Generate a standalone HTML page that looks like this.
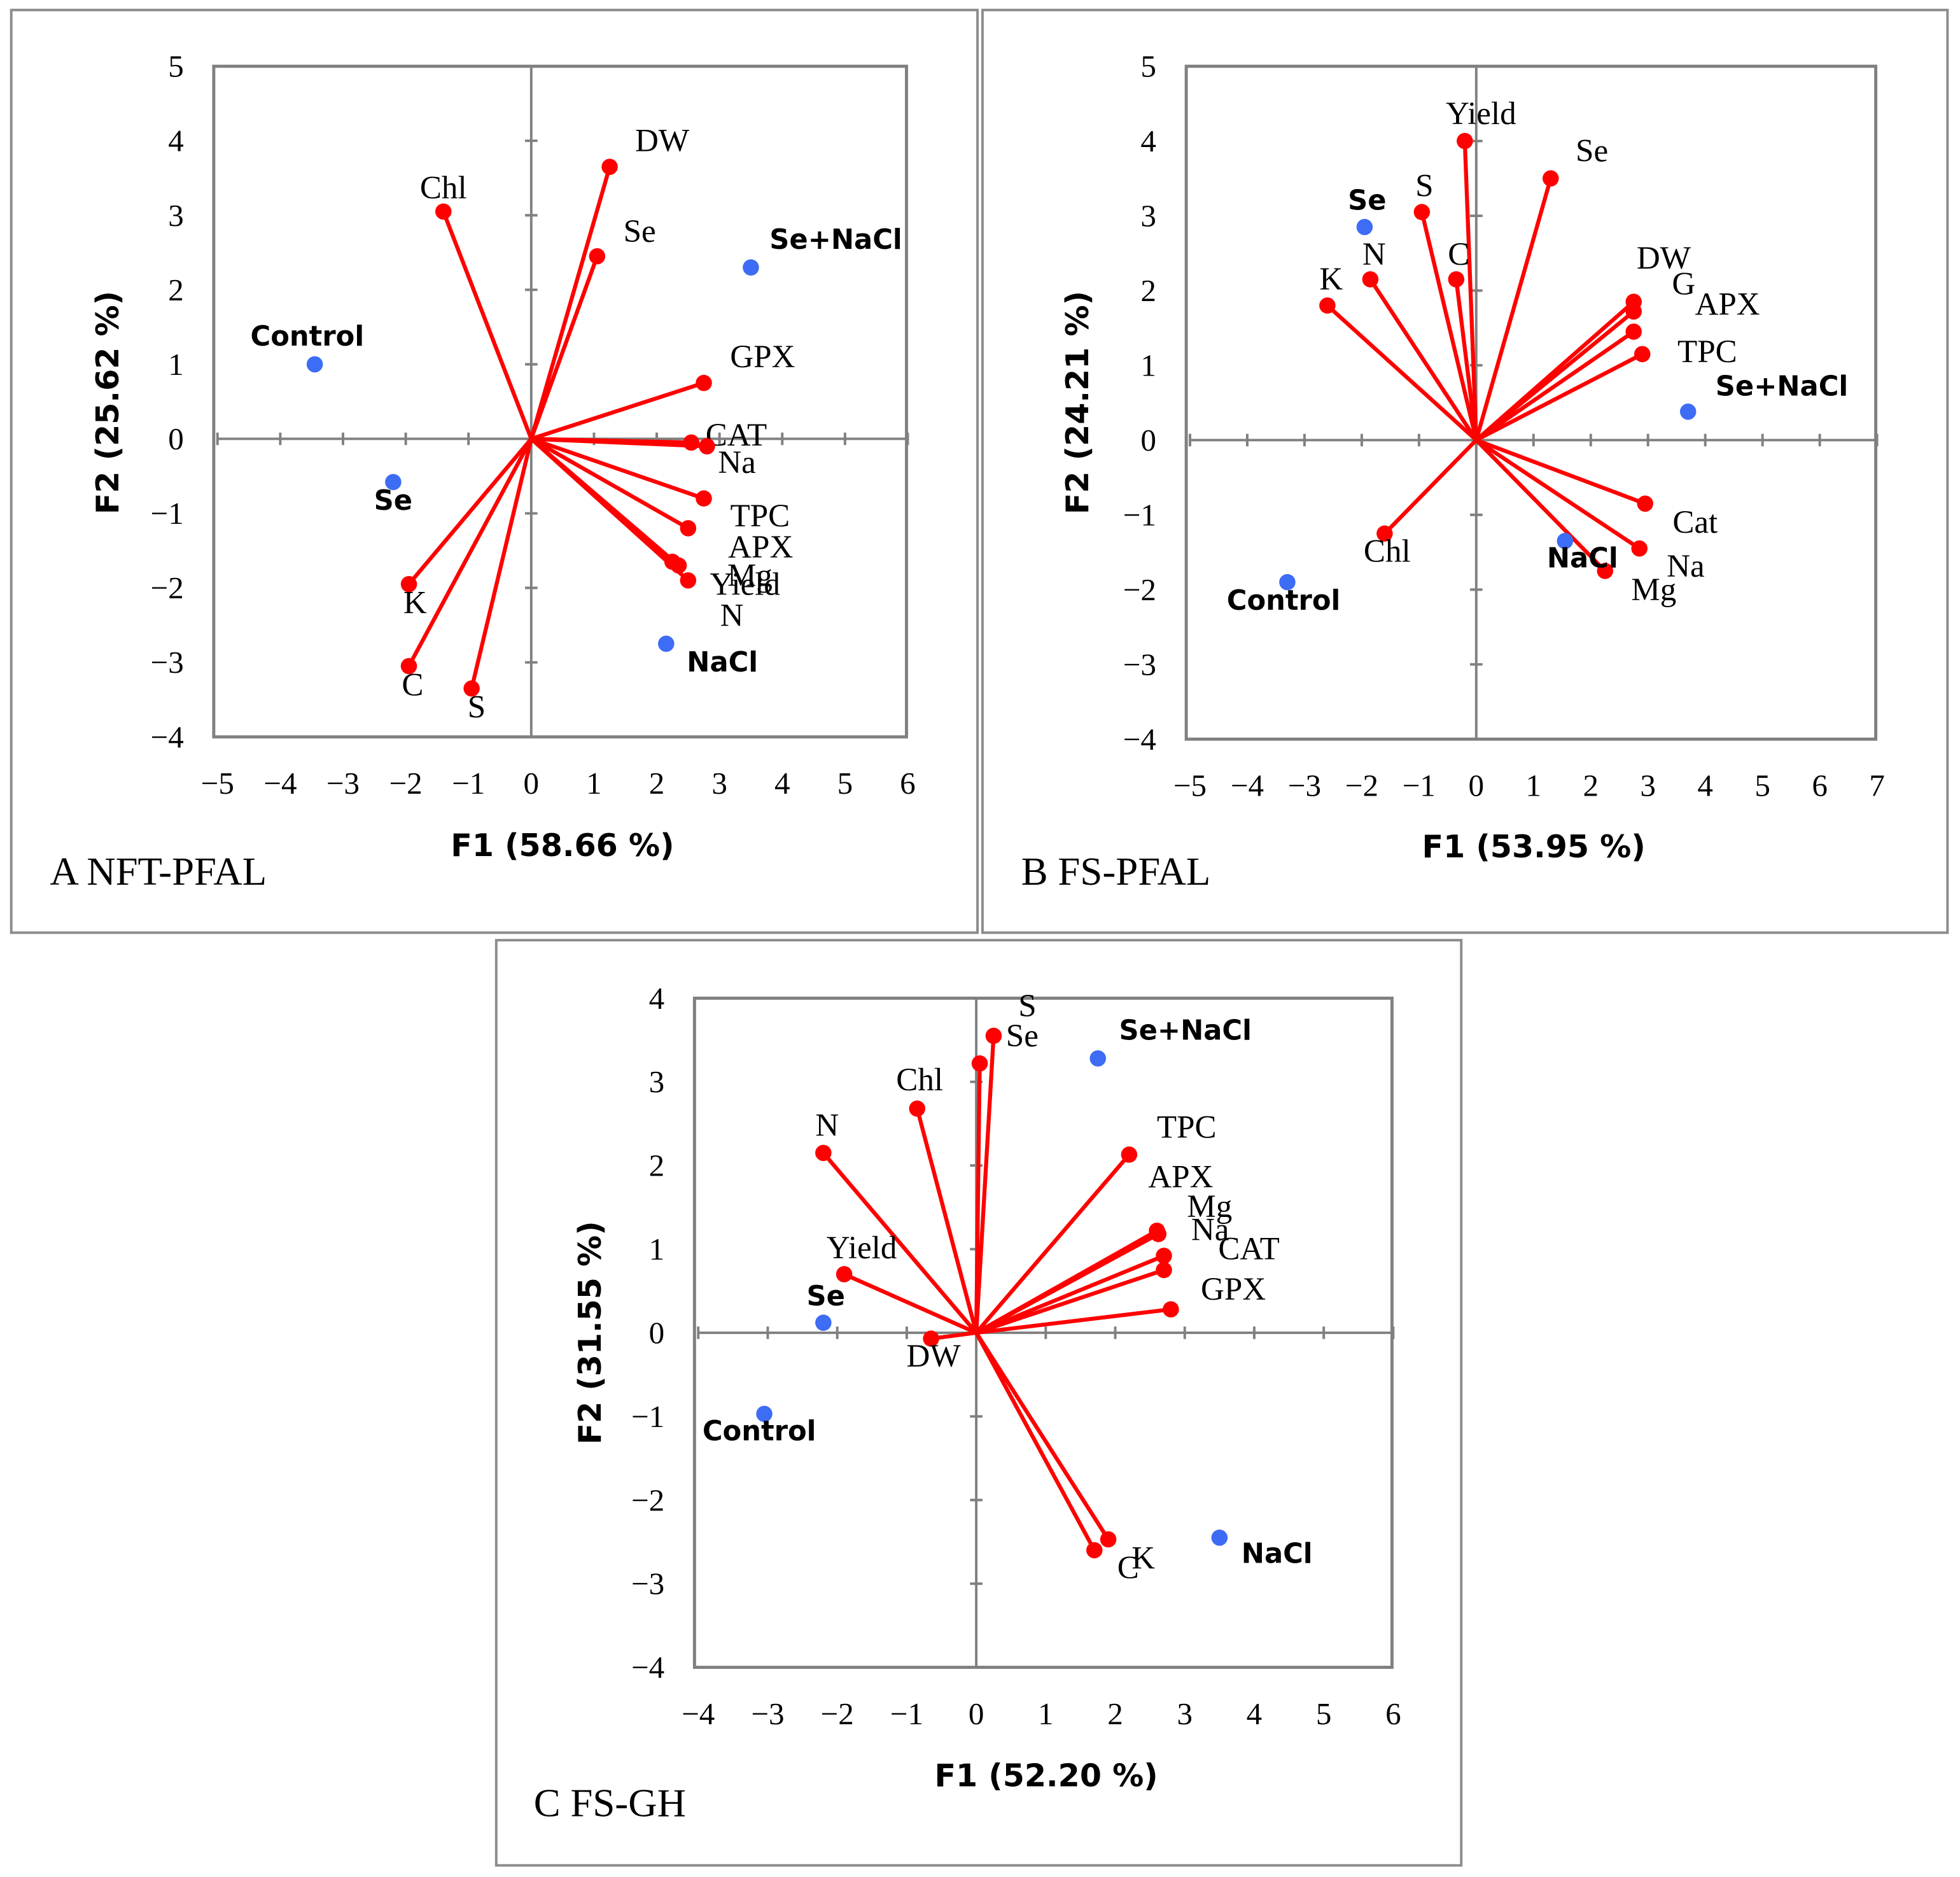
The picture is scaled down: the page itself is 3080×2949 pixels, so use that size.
<!DOCTYPE html>
<html><head><meta charset="utf-8"><style>
html,body{margin:0;padding:0;background:#fff;}
svg{display:block;}
.tk{font-family:"Liberation Serif",serif;font-size:25px;fill:#000;}
.lb{font-family:"Liberation Serif",serif;font-size:26px;fill:#000;}
.ob{font-family:"DejaVu Sans","Liberation Sans",sans-serif;font-weight:bold;font-size:22px;fill:#000;}
.ax{font-family:"DejaVu Sans","Liberation Sans",sans-serif;font-weight:bold;font-size:25px;fill:#000;}
.tt{font-family:"Liberation Serif",serif;font-size:32px;fill:#000;}
</style></head><body>
<svg id="root" width="3080" height="2949" viewBox="0 0 1568 1501.3" preserveAspectRatio="none" xmlns="http://www.w3.org/2000/svg"></svg>
<script>
// Panel A data
const aVarNames = ["Chl","DW","Se","GPX","CAT","Na","TPC","APX","Mg","Yield","N","K","C","S"];
const aVarF1 = [-1.4,1.25,1.05,2.75,2.55,2.8,2.75,2.5,2.25,2.35,2.5,-1.95,-1.95,-0.95];
const aVarF2 = [3.05,3.65,2.45,0.75,-0.05,-0.1,-0.8,-1.2,-1.65,-1.7,-1.9,-1.95,-3.05,-3.35];
const aObsNames = ["Control","Se","Se+NaCl","NaCl"];
const aObsF1 = [-3.45,-2.2,3.5,2.15];
const aObsF2 = [1.0,-0.58,2.3,-2.75];
// Panel B data
const bVarNames = ["Yield","Se","S","C","N","K","DW","G","APX","TPC","Cat","Na","Mg","Chl"];
const bVarF1 = [-0.2,1.3,-0.95,-0.35,-1.85,-2.6,2.75,2.75,2.75,2.9,2.95,2.85,2.25,-1.6];
const bVarF2 = [4.0,3.5,3.05,2.15,2.15,1.8,1.85,1.72,1.45,1.15,-0.85,-1.45,-1.75,-1.25];
const bObsNames = ["Se","Se+NaCl","NaCl","Control"];
const bObsF1 = [-1.95,3.7,1.55,-3.3];
const bObsF2 = [2.85,0.38,-1.35,-1.9];
// Panel C data
const cVarNames = ["S","Se","Chl","N","TPC","APX","Mg","Na","CAT","GPX","Yield","DW","K","C"];
const cVarF1 = [0.25,0.05,-0.85,-2.2,2.2,2.6,2.62,2.7,2.7,2.8,-1.9,-0.65,1.9,1.7];
const cVarF2 = [3.55,3.22,2.68,2.15,2.13,1.22,1.18,0.92,0.75,0.28,0.7,-0.07,-2.47,-2.6];
const cObsNames = ["Se+NaCl","Se","Control","NaCl"];
const cObsF1 = [1.75,-2.2,-3.05,3.5];
const cObsF2 = [3.28,0.12,-0.97,-2.45];
// Axis ticks
const aXTicks=[-5,-4,-3,-2,-1,0,1,2,3,4,5,6], aYTicks=[-4,-3,-2,-1,0,1,2,3,4,5];
const bXTicks=[-5,-4,-3,-2,-1,0,1,2,3,4,5,6,7], bYTicks=[-4,-3,-2,-1,0,1,2,3,4,5];
const cXTicks=[-4,-3,-2,-1,0,1,2,3,4,5,6], cYTicks=[-4,-3,-2,-1,0,1,2,3,4];

// label offsets (style, px)
const aVarOff=[[0,-19],[42,-21],[34,-20],[47,-21],[36,-6],[24,13],[45,14],[58,15],[62,11],[53,15],[35,28],[5,15],[3,15],[4,15]];
const aObsOff=[[-6,-22],[0,15],[68,-22],[45,15]];
const bVarOff=[[13,-22],[33,-22],[2,-21],[2,-20],[3,-20],[3,-21],[24,-35],[40,-22],[75,-22],[52,-2],[40,15],[37,14],[39,15],[2,14]];
const bObsOff=[[2,-21],[75,-20],[14,14],[-3,15]];
const cVarOff=[[27,-24],[34,-22],[2,-23],[3,-22],[46,-22],[19,-43],[41,-22],[37,-21],[68,-17],[50,-16],[14,-21],[2,14],[28,15],[27,14]];
const cObsOff=[[70,-22],[2,-21],[-4,14],[46,13]];

const NS="http://www.w3.org/2000/svg";
const root=document.getElementById('root');
function mk(tag,attrs,parent){const e=document.createElementNS(NS,tag);for(const k in attrs)e.setAttribute(k,attrs[k]);(parent||root).appendChild(e);return e;}
function txt(s,x,y,cls,anchor,parent){const t=mk('text',{x:x,y:y,class:cls,'text-anchor':anchor||'middle','dominant-baseline':'central'},parent);t.textContent=s;return t;}

function panel(key,cfg){
  const g=mk('g',{});
  
  
  const fr=mk('rect',{x:cfg.frame[0],y:cfg.frame[1],width:cfg.frame[2],height:cfg.frame[3],fill:'none',stroke:'#8c8c8c','stroke-width':2},g);
  
  
  const sx=v=>cfg.x0+cfg.ux*v, sy=v=>cfg.y0-cfg.uy*v;
  const xmin=cfg.xt[0],xmax=cfg.xt[cfg.xt.length-1],ymin=cfg.yt[0],ymax=cfg.yt[cfg.yt.length-1];
  const pb=mk('rect',{x:sx(xmin)-3,y:sy(ymax),width:sx(xmax)-sx(xmin)+2,height:sy(ymin)-sy(ymax),fill:'none',stroke:'#808080','stroke-width':2.5},g);
  
  
  const xa=mk('line',{x1:sx(xmin),x2:sx(xmax),y1:sy(0),y2:sy(0),stroke:'#808080','stroke-width':2},g);
  
  
  const ya=mk('line',{x1:sx(0),x2:sx(0),y1:sy(ymin),y2:sy(ymax),stroke:'#808080','stroke-width':2},g);
  
  
  cfg.xt.forEach(v=>{
    const l=mk('line',{x1:sx(v),x2:sx(v),y1:sy(0)-5,y2:sy(0)+5,stroke:'#808080','stroke-width':2},g);
    
    
    const t=txt(String(v).replace('-','\u2212'),sx(v),sy(ymin)+37,'tk','middle',g);
    
    
  });
  cfg.yt.forEach(v=>{
    const l=mk('line',{x1:sx(0)-5,x2:sx(0)+5,y1:sy(v),y2:sy(v),stroke:'#808080','stroke-width':2},g);
    
    
    const t=txt(String(v).replace('-','\u2212'),sx(xmin)-27,sy(v),'tk','end',g);
    
    
  });
  cfg.vn.forEach((n,i)=>{
    const px=sx(cfg.vx[i]),py=sy(cfg.vy[i]);
    const l=mk('line',{x1:sx(0),y1:sy(0),x2:px,y2:py,stroke:'#ff0000','stroke-width':3.2},g);
    
    
    const c=mk('circle',{cx:px,cy:py,r:6.5,fill:'#ff0000'},g);
    
    
    const t=txt(n,px+cfg.vo[i][0],py+cfg.vo[i][1],'lb','middle',g);
    
    
  });
  cfg.on.forEach((n,i)=>{
    const px=sx(cfg.ox[i]),py=sy(cfg.oy[i]);
    const c=mk('circle',{cx:px,cy:py,r:6.5,fill:'#3d6cf5'},g);
    
    
    const t=txt(n,px+cfg.oo[i][0],py+cfg.oo[i][1],'ob','middle',g);
    
    
  });
  const xt=txt(cfg.xl,cfg.xlp[0],cfg.xlp[1],'ax','middle',g);
  
  
  const yt=txt(cfg.yl,0,0,'ax','middle',g);
  yt.setAttribute('transform','translate('+cfg.ylp[0]+','+cfg.ylp[1]+') rotate(-90)');
  
  
  const tt=txt(cfg.title,cfg.tp[0],cfg.tp[1],'tt','start',g);
  
  
}
panel('a',{frame:[9,8,773,738],x0:425,ux:50.2,y0:351,uy:59.6,xt:aXTicks,yt:aYTicks,
  vn:aVarNames,vx:aVarF1,vy:aVarF2,vo:aVarOff,on:aObsNames,ox:aObsF1,oy:aObsF2,oo:aObsOff,
  xl:'F1 (58.66 %)',xlp:[450,676],yl:'F2 (25.62 %)',ylp:[86,322],title:'A NFT-PFAL',tp:[40,697]});
panel('b',{frame:[786,8,772,738],x0:1181,ux:45.8,y0:352,uy:59.8,xt:bXTicks,yt:bYTicks,
  vn:bVarNames,vx:bVarF1,vy:bVarF2,vo:bVarOff,on:bObsNames,ox:bObsF1,oy:bObsF2,oo:bObsOff,
  xl:'F1 (53.95 %)',xlp:[1227,677],yl:'F2 (24.21 %)',ylp:[862,322],title:'B FS-PFAL',tp:[817,697]});
panel('c',{frame:[397,752,772,740],x0:781,ux:55.6,y0:1066,uy:66.9,xt:cXTicks,yt:cYTicks,
  vn:cVarNames,vx:cVarF1,vy:cVarF2,vo:cVarOff,on:cObsNames,ox:cObsF1,oy:cObsF2,oo:cObsOff,
  xl:'F1 (52.20 %)',xlp:[837,1420],yl:'F2 (31.55 %)',ylp:[472,1066],title:'C FS-GH',tp:[427,1442]});
</script>
</body></html>
